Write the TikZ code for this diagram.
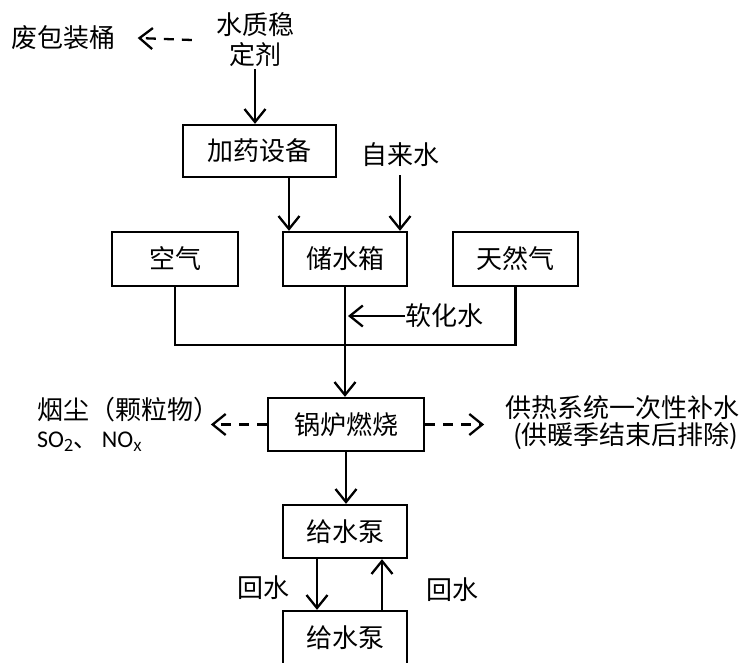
\documentclass[tikz,border=0pt]{standalone}
\usepackage{fontspec}
\setmainfont{Noto Sans CJK SC}
\newfontfamily\latinf{Carlito}
\usetikzlibrary{arrows.meta}
\tikzset{
  box/.style={draw, line width=2.3pt, inner sep=0pt, font=\fontsize{26}{30}\selectfont},
  lbl/.style={inner sep=0pt, font=\fontsize{26}{30}\selectfont},
  ln/.style={line width=2.3pt},
  arr/.style={line width=2.3pt, -{Straight Barb[length=13pt,width=21pt,line width=2.3pt]}},
  darr/.style={arr, dash pattern=on 10pt off 8pt},
}
\begin{document}
\begin{tikzpicture}[x=1pt,y=-1pt]
\useasboundingbox (0,0) rectangle (750,662);
% nodes
\node[lbl] (waste) at (63.5,38) {废包装桶};
\node[lbl, align=center] (wq) at (255,40) {水质稳\\定剂};
\node[box, minimum width=153pt, minimum height=52pt] (jy) at (259.5,151) {加药设备};
\node[lbl] (tap) at (400,155) {自来水};
\node[box, minimum width=126pt, minimum height=54pt] (air) at (175,259) {空气};
\node[box, minimum width=124pt, minimum height=54pt] (tank) at (345,259) {储水箱};
\node[box, minimum width=125pt, minimum height=54pt] (gas) at (515.5,259) {天然气};
\node[lbl, anchor=west] (soft) at (405,316) {软化水};
\node[box, minimum width=156pt, minimum height=53pt] (boiler) at (346,424.5) {锅炉燃烧};
\node[lbl, anchor=west] (dust) at (37,410) {烟尘（颗粒物）};
\node[inner sep=0pt, anchor=west, font=\fontsize{24}{28}\selectfont] (sox) at (37,442) {\latinf SO$_{\mathrm{2}}$\rmfamily 、\,\latinf NO$_{\mathrm{x}}$};
\node[lbl, anchor=west] (heat1) at (505,408) {供热系统一次性补水};
\node[lbl, anchor=west] (heat2) at (513,436) {(供暖季结束后排除)};
\node[box, minimum width=124pt, minimum height=53pt] (pump1) at (345,531.5) {给水泵};
\node[box, minimum width=124pt, minimum height=53pt] (pump2) at (345,637.5) {给水泵};
\node[lbl] (hs1) at (263,588) {回水};
\node[lbl] (hs2) at (452,590) {回水};
% connectors
\draw[darr] ([xshift=-24pt]wq.west) -- ([xshift=22pt]waste.east);
\draw[arr] ([yshift=-2pt]wq.south) -- (wq.south |- jy.north);
\draw[arr] ([xshift=29.5pt]jy.south) -- ([xshift=29.5pt]jy.south |- tank.north);
\draw[arr] ([yshift=-8pt]tap.south) -- (tap.south |- tank.north);
\draw[ln] (air.south) -- ++(0,58) -| (gas.south);
\draw[arr] (tank.south) -- (tank.south |- boiler.north);
\draw[arr] (soft.west) -- ([xshift=3pt]tank.south |- soft.west);
\draw[darr] (boiler.west) -- ([xshift=-56pt]boiler.west);
\draw[darr] (boiler.east) -- ([xshift=59pt]boiler.east);
\draw[arr] (boiler.south) -- (boiler.south |- pump1.north);
\draw[arr] ([xshift=-28pt]pump1.south) -- ([xshift=-28pt]pump2.north);
\draw[arr] ([xshift=37pt]pump2.north) -- ([xshift=37pt]pump1.south);
\end{tikzpicture}
\end{document}
